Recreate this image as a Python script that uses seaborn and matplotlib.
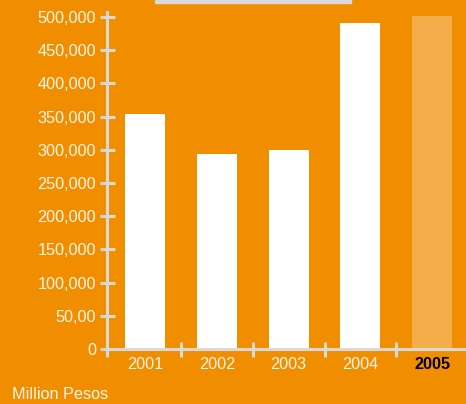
import matplotlib
matplotlib.use("Agg")
import matplotlib.pyplot as plt
import seaborn as sns
import pandas as pd
from matplotlib.patches import Rectangle

years = ["2001", "2002", "2003", "2004", "2005"]
values = [354000, 294000, 300000, 491000, 502000]
y_ticks = [0, 50000, 100000, 150000, 200000, 250000, 300000, 350000, 400000, 450000, 500000]
y_tick_labels = ["0", "50,00", "100,000", "150,000", "200,000", "250,000", "300,000",
                 "350,000", "400,000", "450,000", "500,000"]
unit_label = "Million Pesos"

df = pd.DataFrame({"year": years, "value": values})

bg = "#F18E00"
axis_gray = "#D9D9D9"
text_col = "#FFF6E8"

sns.set_theme(style="white", rc={
    "axes.facecolor": bg,
    "figure.facecolor": bg,
    "axes.edgecolor": axis_gray,
})
plt.rcParams["font.family"] = ["Liberation Sans", "DejaVu Sans"]

fig = plt.figure(figsize=(4.66, 4.04), dpi=100)
ax = fig.add_axes([107 / 466, (404 - 349) / 404, 1 - 107 / 466, (349 - 12) / 404])

sns.barplot(data=df, x="year", y="value", hue="year",
            palette=["white", "white", "white", "white", "#F5AD4C"],
            width=0.557, saturation=1, legend=False, linewidth=0, edgecolor="none", ax=ax)

ax.set_xlim(-0.53, 4.47)
ax.set_ylim(0, 507500)

for side in ["top", "right"]:
    ax.spines[side].set_visible(False)
for side in ["left", "bottom"]:
    ax.spines[side].set_linewidth(2.2)
    ax.spines[side].set_color(axis_gray)

ax.set_yticks(y_ticks)
ax.set_yticklabels(y_tick_labels)
ax.tick_params(axis="y", direction="inout", length=10.8, width=2.2, color=axis_gray,
               labelcolor=text_col, labelsize=11.7, pad=2.5, left=True)

ax.set_xticks(range(len(years)))
ax.set_xticklabels(years)
ax.set_xticks([-0.53, 0.5, 1.5, 2.5, 3.5], minor=True)
ax.tick_params(axis="x", which="major", length=0, labelcolor=text_col, labelsize=11.7, pad=6)
ax.tick_params(axis="x", which="minor", direction="inout", length=10.8, width=2.2,
               color=axis_gray, bottom=True)
last = ax.get_xticklabels()[-1]
last.set_color("black")
last.set_fontweight("bold")

ax.set_xlabel("")
ax.set_ylabel("")

fig.patches.append(Rectangle((155 / 466, 1 - 3 / 404), 196 / 466, 3 / 404,
                             transform=fig.transFigure, color=axis_gray, zorder=5))
fig.text(12 / 466, (404 - 399) / 404, unit_label, color=text_col, fontsize=11.7,
         ha="left", va="baseline")

fig.savefig("out.png", dpi=100, facecolor=bg)
